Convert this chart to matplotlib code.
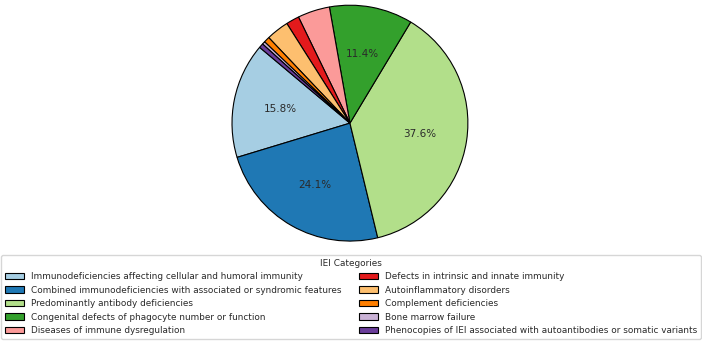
import matplotlib
matplotlib.use("Agg")
import matplotlib.pyplot as plt

categories = [
    "Immunodeficiencies affecting cellular and humoral immunity",
    "Combined immunodeficiencies with associated or syndromic features",
    "Predominantly antibody deficiencies",
    "Congenital defects of phagocyte number or function",
    "Diseases of immune dysregulation",
    "Defects in intrinsic and innate immunity",
    "Autoinflammatory disorders",
    "Complement deficiencies",
    "Bone marrow failure",
    "Phenocopies of IEI associated with autoantibodies or somatic variants",
]
values = [15.8, 24.1, 37.6, 11.4, 4.4, 1.8, 3.1, 0.8, 0.4, 0.6]

colors = plt.get_cmap("Paired").colors[:len(values)]
text_color = "#2a2a2a"

fig = plt.figure(figsize=(7.02, 3.43), dpi=100)
ax = fig.add_axes([0.3305, 0.297, 0.336, 0.688])

wedges, texts, autotexts = ax.pie(
    values, colors=colors, startangle=140,
    autopct=lambda p: f"{p:.1f}%" if p > 5 else "",
    wedgeprops=dict(edgecolor="black", linewidth=0.8),
    textprops=dict(fontsize=7.5, color=text_color),
)
ax.set_xlim(-1, 1)
ax.set_ylim(-1, 1)
ax.set_aspect("equal")

leg = fig.legend(wedges, categories, title="IEI Categories", loc="lower center",
                 bbox_to_anchor=(0.5, 0.0117), borderaxespad=0, ncol=2,
                 fontsize=6.4, title_fontsize=6.4, labelspacing=0.5,
                 columnspacing=2.0, handlelength=2.1, borderpad=0.45,
                 handletextpad=0.8, labelcolor=text_color)
leg.get_title().set_color(text_color)
fig.savefig("out.png", dpi=100)
